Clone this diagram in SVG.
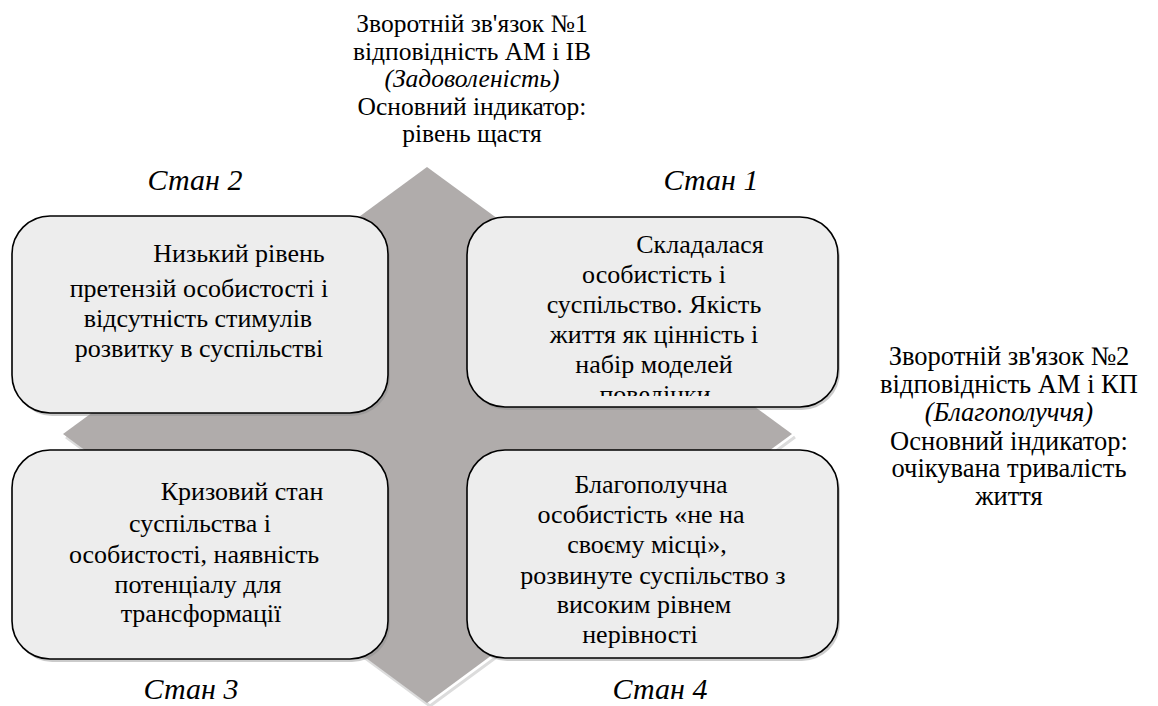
<svg xmlns="http://www.w3.org/2000/svg" width="1158" height="706" viewBox="0 0 1158 706">
<style>
text{font-family:"Liberation Serif",serif !important;fill:#000;}
.box{fill:#ededed;stroke:#000;stroke-width:1.6;}
.sh{fill:#8c8c8c;opacity:0.45;}
</style>
<defs>
<clipPath id="c1"><rect x="467" y="217" width="372" height="179"/></clipPath>
</defs>
<rect width="1158" height="706" fill="#fff"/>
<g id="diamond">
<polyline points="66,437 430,706 795,437" fill="none" stroke="#dcdcdc" stroke-width="3"/>
<polygon points="427,167 792,434 427,703 63,434" fill="#b0acab"/>
</g>
<g id="feedback1" font-size="25.5" text-anchor="middle">
<text style="font-family:'Liberation Serif',serif !important" x="472" y="32">Зворотній зв'язок №1</text>
<text style="font-family:'Liberation Serif',serif !important" x="472" y="60">відповідність АМ і ІВ</text>
<text style="font-family:'Liberation Serif',serif !important" font-style="italic" x="472" y="87">(Задоволеність)</text>
<text style="font-family:'Liberation Serif',serif !important" x="472" y="115">Основний індикатор:</text>
<text style="font-family:'Liberation Serif',serif !important" x="472" y="142">рівень щастя</text>
</g>
<g id="feedback2" font-size="26.5" text-anchor="middle">
<text style="font-family:'Liberation Serif',serif !important" x="1009" y="365">Зворотній зв'язок №2</text>
<text style="font-family:'Liberation Serif',serif !important" x="1009" y="393">відповідність АМ і КП</text>
<text style="font-family:'Liberation Serif',serif !important" font-style="italic" x="1009" y="421">(Благополуччя)</text>
<text style="font-family:'Liberation Serif',serif !important" x="1009" y="450">Основний індикатор:</text>
<text style="font-family:'Liberation Serif',serif !important" x="1009" y="477">очікувана тривалість</text>
<text style="font-family:'Liberation Serif',serif !important" x="1009" y="505">життя</text>
</g>
<g id="labels" font-size="30" font-style="italic" text-anchor="middle">
<text style="font-family:'Liberation Serif',serif !important" x="195" y="190">Стан 2</text>
<text style="font-family:'Liberation Serif',serif !important" x="711" y="190">Стан 1</text>
<text style="font-family:'Liberation Serif',serif !important" x="191" y="699">Стан 3</text>
<text style="font-family:'Liberation Serif',serif !important" x="660" y="699">Стан 4</text>
</g>
<g id="state2" font-size="26" text-anchor="middle">
<rect class="sh" x="14" y="219" width="376" height="197" rx="38"/>
<rect class="box" x="12" y="216" width="376" height="197" rx="38"/>
<text style="font-family:'Liberation Serif',serif !important" x="239" y="262">Низький рівень</text>
<text style="font-family:'Liberation Serif',serif !important" x="199" y="297">претензій особистості і</text>
<text style="font-family:'Liberation Serif',serif !important" x="198" y="327">відсутність стимулів</text>
<text style="font-family:'Liberation Serif',serif !important" x="199" y="357">розвитку в суспільстві</text>
</g>
<g id="state1" font-size="26" text-anchor="middle">
<rect class="sh" x="469" y="220" width="371" height="190" rx="38"/>
<rect class="box" x="467" y="217" width="371" height="190" rx="38"/>
<g clip-path="url(#c1)">
<text style="font-family:'Liberation Serif',serif !important" x="700" y="253">Складалася</text>
<text style="font-family:'Liberation Serif',serif !important" x="654" y="283">особистість і</text>
<text style="font-family:'Liberation Serif',serif !important" x="654" y="313">суспільство. Якість</text>
<text style="font-family:'Liberation Serif',serif !important" x="654" y="343">життя як цінність і</text>
<text style="font-family:'Liberation Serif',serif !important" x="654" y="373">набір моделей</text>
<text style="font-family:'Liberation Serif',serif !important" x="655" y="403">поведінки</text>
</g>
</g>
<g id="state3" font-size="26" text-anchor="middle">
<rect class="sh" x="14" y="453" width="376" height="209" rx="38"/>
<rect class="box" x="12" y="450" width="376" height="209" rx="38"/>
<text style="font-family:'Liberation Serif',serif !important" x="242" y="500">Кризовий стан</text>
<text style="font-family:'Liberation Serif',serif !important" x="200" y="532">суспільства і</text>
<text style="font-family:'Liberation Serif',serif !important" x="194" y="563">особистості, наявність</text>
<text style="font-family:'Liberation Serif',serif !important" x="198" y="593">потенціалу для</text>
<text style="font-family:'Liberation Serif',serif !important" x="201" y="622">трансформації</text>
</g>
<g id="state4" font-size="26" text-anchor="middle">
<rect class="sh" x="469" y="453" width="371" height="208" rx="38"/>
<rect class="box" x="467" y="450" width="371" height="208" rx="38"/>
<text style="font-family:'Liberation Serif',serif !important" x="651" y="493">Благополучна</text>
<text style="font-family:'Liberation Serif',serif !important" x="641" y="523">особистість «не на</text>
<text style="font-family:'Liberation Serif',serif !important" x="647" y="553">своєму місці»,</text>
<text style="font-family:'Liberation Serif',serif !important" x="653" y="584">розвинуте суспільство з</text>
<text style="font-family:'Liberation Serif',serif !important" x="644" y="613">високим рівнем</text>
<text style="font-family:'Liberation Serif',serif !important" x="640" y="643">нерівності</text>
</g>
<g id="connectors"></g>
</svg>
